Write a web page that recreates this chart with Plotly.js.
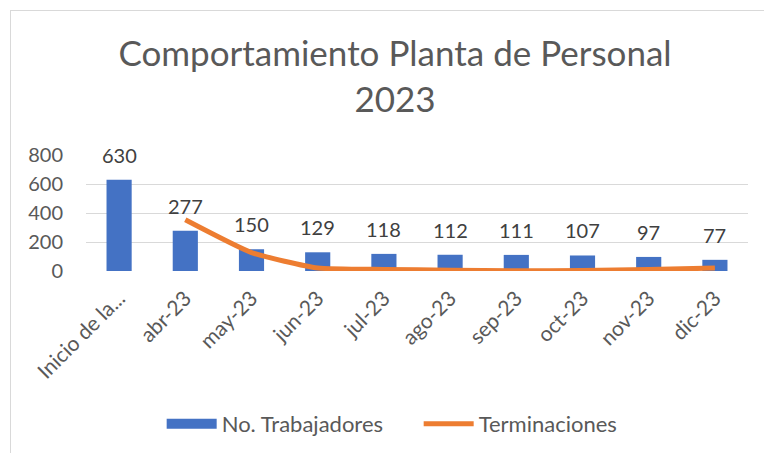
<!DOCTYPE html>
<html><head><meta charset="utf-8">
<script src="https://cdn.plot.ly/plotly-3.0.1.min.js"></script>
<style>html,body{margin:0;padding:0;background:#fff}#c{width:764px;height:453px;position:relative}
#b{position:absolute;left:10px;top:10px;width:760px;height:450px;border-left:1px solid #d9d9d9;border-top:1px solid #d9d9d9;pointer-events:none}</style>
</head><body><div id="c"></div><div id="b"></div>
<script>
const categories = ["Inicio de la...", "abr-23", "may-23", "jun-23", "jul-23", "ago-23", "sep-23", "oct-23", "nov-23", "dic-23"];
const trabajadores = [630, 277, 150, 129, 118, 112, 111, 107, 97, 77];
const lineCats = ["abr-23", "may-23", "jun-23", "jul-23", "ago-23", "sep-23", "oct-23", "nov-23", "dic-23"];
const terminaciones = [353, 127, 21, 11, 6, 1, 4, 10, 20];
const yTicks = [0, 200, 400, 600, 800];

const font = "Lato, 'Open Sans', sans-serif";
const grey = "#595959";

const data = [
  {type: "bar", name: "No. Trabajadores", x: categories, y: trabajadores,
   marker: {color: "#4472C4"}, hoverinfo: "x+y", showlegend: false, legendgroup: "t"},
  {type: "scatter", mode: "lines", name: "No. Trabajadores", x: [null], y: [null],
   line: {color: "#4472C4", width: 14}, legendgroup: "t", hoverinfo: "skip"},
  {type: "scatter", mode: "lines", name: "Terminaciones", x: lineCats, y: terminaciones,
   line: {color: "#ED7D31", width: 5, shape: "spline", smoothing: 0.5}}
];

const annotations = categories.map((c, i) => ({
  x: c, y: trabajadores[i], xref: "x", yref: "y", text: String(trabajadores[i]),
  showarrow: false, yanchor: "bottom", yshift: 11,
  font: {family: font, size: 20, color: "#404040"}
}));

const layout = {
  width: 764, height: 453,
  margin: {l: 86, r: 16, t: 155, b: 182},
  paper_bgcolor: "#fff", plot_bgcolor: "#fff",
  font: {family: font, color: grey},
  title: {text: "Comportamiento Planta de Personal<br>2023", x: 0.517, xanchor: "center",
          y: 1 - 66/453, yref: "container", yanchor: "top",
          font: {family: font, size: 35, color: grey}},
  bargap: 0.62,
  showlegend: true,
  legend: {orientation: "h", x: 0.548, xanchor: "center", xref: "container",
           y: 1 - 403/453, yref: "container", yanchor: "top",
           font: {family: font, size: 22, color: grey}, itemwidth: 50, traceorder: "normal",
           entrywidth: 192},
  xaxis: {type: "category", categoryarray: categories, categoryorder: "array",
          tickangle: -45, tickfont: {family: font, size: 21, color: grey},
          showgrid: false, showline: false, ticks: "", ticklen: 0, ticklabelstandoff: 10},
  yaxis: {range: [0, 800], tickvals: yTicks, ticktext: yTicks.map(String),
          tickfont: {family: font, size: 20, color: grey},
          showgrid: true, gridcolor: "#d9d9d9", gridwidth: 1, zeroline: false, showline: false,
          ticks: "", ticklabelstandoff: 22},
  annotations: annotations
};
Plotly.newPlot("c", data, layout, {displayModeBar: false, staticPlot: true});
</script></body></html>
